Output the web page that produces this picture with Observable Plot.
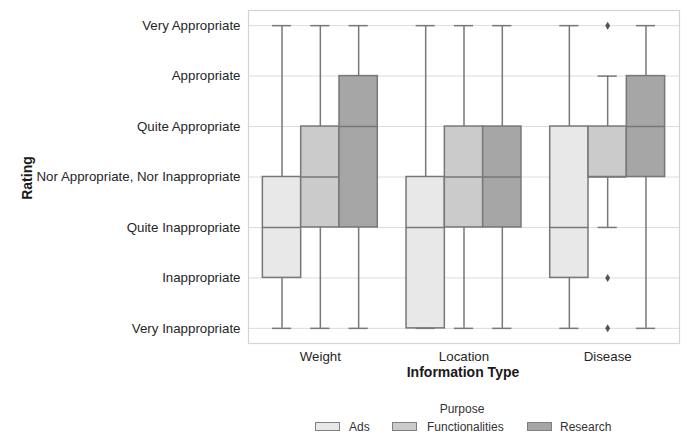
<!DOCTYPE html>
<html>
<head>
<meta charset="utf-8">
<script src="https://cdn.jsdelivr.net/npm/d3@7"></script>
<script src="https://cdn.jsdelivr.net/npm/@observablehq/plot@0.6"></script>
<style>
  html, body { margin: 0; padding: 0; background: #fff; }
  #wrap { position: relative; width: 687px; height: 434px; font-family: "Liberation Sans", Arial, sans-serif; color: #262626; }
  .lbl { position: absolute; font-weight: bold; font-size: 14px; color: #1a1a1a; white-space: nowrap; }
  .leg { position: absolute; font-size: 12px; color: #333; white-space: nowrap; }
  .sw { position: absolute; width: 25px; height: 9px; border: 1px solid #808080; box-sizing: border-box; }
</style>
</head>
<body>
<div id="wrap"></div>
<script>
const categories = ["Weight", "Location", "Disease"];
const purposes = ["Ads", "Functionalities", "Research"];
const ratingLabels = ["Very Inappropriate", "Inappropriate", "Quite Inappropriate",
  "Nor Appropriate, Nor Inappropriate", "Quite Appropriate", "Appropriate", "Very Appropriate"];
const ratingValues = [1, 2, 3, 4, 5, 6, 7];
// per category (row) and purpose (column)
const whiskerLow  = [[1, 1, 1], [1, 1, 1], [1, 3, 1]];
const q1          = [[2, 3, 3], [1, 3, 3], [2, 4, 4]];
const medians     = [[3, 4, 5], [3, 4, 4], [3, 4, 5]];
const q3          = [[4, 5, 6], [4, 5, 5], [5, 5, 6]];
const whiskerHigh = [[7, 7, 7], [7, 7, 7], [7, 6, 7]];
const outlierCategory = ["Disease", "Disease", "Disease"];
const outlierPurpose = ["Functionalities", "Functionalities", "Functionalities"];
const outlierValue = [7, 2, 1];
const colors = ["#e8e8e8", "#cbcbcb", "#a6a6a6"];

const w = 0.8 / purposes.length;
const center = (ci, pi) => ci + (pi - (purposes.length - 1) / 2) * w;
const rows = [];
categories.forEach((c, ci) => purposes.forEach((p, pi) => {
  const cx = center(ci, pi);
  rows.push({cat: c, purpose: p, cx, x1: cx - w / 2, x2: cx + w / 2, c1: cx - w / 4, c2: cx + w / 4,
    lo: whiskerLow[ci][pi], q1: q1[ci][pi], med: medians[ci][pi], q3: q3[ci][pi], hi: whiskerHigh[ci][pi],
    fill: colors[pi]});
}));
const outliers = outlierValue.map((v, i) => ({
  cx: center(categories.indexOf(outlierCategory[i]), purposes.indexOf(outlierPurpose[i])), v}));

const thinDiamond = {draw(ctx, size) {
  const r = Math.sqrt(size / Math.PI);
  ctx.moveTo(0, -r); ctx.lineTo(r * 0.62, 0); ctx.lineTo(0, r); ctx.lineTo(-r * 0.62, 0); ctx.closePath();
}};

const edge = "#777777";
const chart = Plot.plot({
  width: 687, height: 390,
  marginLeft: 248, marginRight: 8, marginTop: 10, marginBottom: 47,
  style: {fontFamily: "'Liberation Sans', Arial, sans-serif", fontSize: "13.3px", color: "#262626", background: "#fff"},
  x: {type: "linear", domain: [-0.5, 2.5]},
  y: {type: "linear", domain: [0.7, 7.3]},
  marks: [
    Plot.ruleY(ratingValues, {stroke: "#dcdcdc", strokeWidth: 1}),
    Plot.frame({stroke: "#d4d4d4", strokeWidth: 1.2}),
    Plot.ruleX(rows, {x: "cx", y1: "lo", y2: "q1", stroke: edge, strokeWidth: 1.5}),
    Plot.ruleX(rows, {x: "cx", y1: "q3", y2: "hi", stroke: edge, strokeWidth: 1.5}),
    Plot.ruleY(rows, {y: "lo", x1: "c1", x2: "c2", stroke: edge, strokeWidth: 1.5}),
    Plot.ruleY(rows, {y: "hi", x1: "c1", x2: "c2", stroke: edge, strokeWidth: 1.5}),
    Plot.rect(rows, {x1: "x1", x2: "x2", y1: "q1", y2: "q3", fill: d => d.fill, stroke: edge, strokeWidth: 1.5}),
    Plot.ruleY(rows, {y: "med", x1: "x1", x2: "x2", stroke: edge, strokeWidth: 1.5}),
    Plot.dot(outliers, {x: "cx", y: "v", r: 4, symbol: thinDiamond, fill: "#555", stroke: "none"}),
    Plot.axisY(ratingValues, {tickFormat: d => ratingLabels[d - 1], tickSize: 0, tickPadding: 8, label: null, fontSize: 13.3}),
    Plot.axisX([0, 1, 2], {tickFormat: d => categories[d], tickSize: 0, tickPadding: 8, label: null, fontSize: 13.3})
  ]
});
const wrap = document.getElementById("wrap");
wrap.appendChild(chart);

function addDiv(cls, text, style) {
  const d = document.createElement("div");
  d.className = cls;
  if (text) d.textContent = text;
  Object.assign(d.style, style);
  wrap.appendChild(d);
  return d;
}
addDiv("lbl", "Rating", {left: "27px", top: "178px", transform: "translate(-50%,-50%) rotate(-90deg)"});
addDiv("lbl", "Information Type", {left: "463px", top: "372px", transform: "translate(-50%,-50%)"});
addDiv("leg", "Purpose", {left: "462px", top: "409px", transform: "translate(-50%,-50%)"});
const swX = [315, 392, 527];
const txtX = [349, 427, 560];
purposes.forEach((p, i) => {
  addDiv("sw", null, {left: swX[i] + "px", top: "422px", background: colors[i]});
  addDiv("leg", p, {left: txtX[i] + "px", top: "426.5px", transform: "translateY(-50%)"});
});
</script>
</body>
</html>
